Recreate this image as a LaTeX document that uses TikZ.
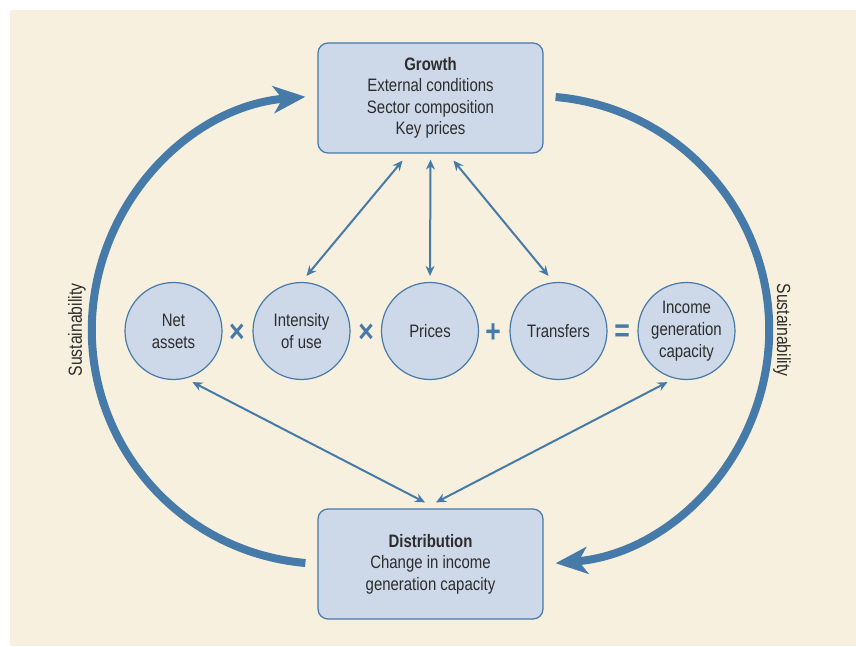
\documentclass[tikz,border=0pt]{standalone}
\usepackage{fontspec}
\setmainfont[FakeStretch=0.83]{Liberation Sans}
\usetikzlibrary{arrows.meta,positioning}
\definecolor{cream}{RGB}{247,240,222}
\definecolor{steel}{RGB}{70,122,168}
\definecolor{pale}{RGB}{205,216,232}
\definecolor{ink}{RGB}{45,45,45}

\begin{document}
\begin{tikzpicture}[x=1pt, y=1pt,
	box/.style={draw=steel, line width=1.2pt, fill=pale, rounded corners=10pt,
	minimum width=225pt, minimum height=110pt, align=center, text=ink,
	font=\fontsize{18}{21.5}\selectfont},
	circ/.style={draw=steel, line width=1.2pt, fill=pale, circle, minimum size=97pt,
	inner sep=0pt, align=center, text=ink, font=\fontsize{18}{22}\selectfont},
	op/.style={text=steel, font=\fontsize{32}{32}\selectfont\bfseries},
	link/.style={draw=steel, line width=2pt, {Stealth[length=10pt,width=9pt]}-{Stealth[length=10pt,width=9pt]}},
	loop/.style={draw=steel, line width=8pt, -{Stealth[length=32pt,width=27pt,inset=9pt]}},
	side/.style={text=ink, font=\fontsize{19}{19}\selectfont}]
\useasboundingbox (0,0) rectangle (856,646);
\fill[cream] (10,0) rectangle (856,636);

% boxes
\node[box] (growth) at (430.5,548) {\textbf{Growth}\\External conditions\\Sector composition\\Key prices};
\node[box] (distr) at (430.5,82) {\textbf{Distribution}\\Change in income\\generation capacity};

% circles and operators
\node[circ] (net) at (173.5,315) {Net\\assets};
\node[circ] (intens) at (301.5,315) {Intensity\\of use};
\node[circ] (prices) at (430,315) {Prices};
\node[circ] (transf) at (558.5,315) {Transfers};
\node[circ] (income) at (686.5,315) {Income\\generation\\capacity};
\node[op] (op1) at (237,313) {×};
\node[op] (op2) at (366,313) {×};
\node[op] (op3) at (493,313) {+};
\node[op] (op4) at (622,313) {=};

% links
\draw[link] ([xshift=-28pt,yshift=-7pt]growth.south) -- ([xshift=5pt,yshift=6pt]intens.north);
\draw[link] ([yshift=-6pt]growth.south) -- ([yshift=6pt]prices.north);
\draw[link] ([xshift=23pt,yshift=-7pt]growth.south) -- ([xshift=-10pt,yshift=6pt]transf.north);
\draw[link] ([xshift=-5.5pt,yshift=6pt]distr.north) -- ([xshift=19pt,yshift=-2pt]net.south);
\draw[link] ([xshift=5.5pt,yshift=6pt]distr.north) -- ([xshift=-19pt,yshift=-2pt]income.south);

% sustainability loops
\coordinate (lbot) at ([xshift=-12pt]distr.west |- 0,83);
\coordinate (rtop) at ([xshift=12pt]growth.east |- 0,549);
\draw[loop] (lbot) arc[start angle=265, end angle=95, radius=234];
\draw[loop] (rtop) arc[start angle=85, end angle=-85, radius=234];
\node[side, rotate=90] (lsus) at (77,316) {Sustainability};
\node[side, rotate=-90] (rsus) at (782,316) {Sustainability};
\end{tikzpicture}
\end{document}
